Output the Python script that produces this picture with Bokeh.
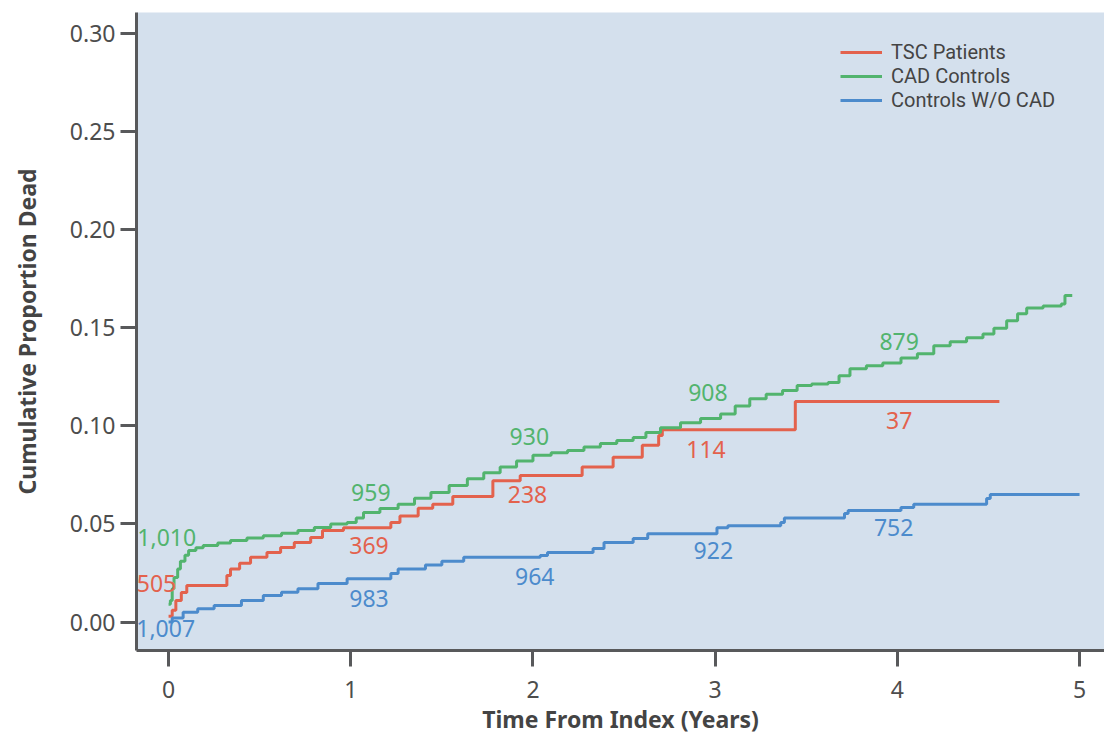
from bokeh.plotting import figure
from bokeh.models import Range1d, FixedTicker, Legend, LegendItem, NumeralTickFormatter, ColumnDataSource
from bokeh.core.properties import value
from bokeh.embed import file_html
from bokeh.resources import INLINE

# --- data ---
tsc_t = [0, 0.02, 0.04, 0.07, 0.10, 0.32, 0.34, 0.39, 0.45, 0.54, 0.615, 0.69, 0.78, 0.845,
         0.96, 1.22, 1.27, 1.37, 1.45, 1.56, 1.78, 1.93, 2.27, 2.44, 2.60, 2.69, 2.71, 3.44, 4.56]
tsc_v = [0.003, 0.006, 0.011, 0.015, 0.0186, 0.0237, 0.027, 0.030, 0.033, 0.0354, 0.038, 0.0405,
         0.043, 0.0466, 0.048, 0.0507, 0.054, 0.058, 0.060, 0.064, 0.072, 0.0747, 0.079, 0.084,
         0.090, 0.095, 0.098, 0.1123, 0.1123]

cad_t = [0, 0.01, 0.02, 0.03, 0.05, 0.065, 0.09, 0.11, 0.15, 0.19, 0.27, 0.34, 0.43, 0.52, 0.62,
         0.71, 0.80, 0.89, 0.98, 1.03, 1.07, 1.16, 1.26, 1.35, 1.44, 1.54, 1.64, 1.73, 1.82, 1.91,
         2.00, 2.10, 2.19, 2.28, 2.37, 2.46, 2.55, 2.62, 2.70, 2.81, 2.92, 3.03, 3.11, 3.19, 3.28,
         3.37, 3.45, 3.53, 3.62, 3.68, 3.74, 3.83, 3.92, 4.02, 4.11, 4.20, 4.29, 4.38, 4.47, 4.53,
         4.60, 4.66, 4.71, 4.80, 4.90, 4.92, 4.96]
cad_v = [0.009, 0.011, 0.017, 0.0227, 0.027, 0.031, 0.034, 0.0364, 0.0378, 0.039, 0.0402, 0.0415,
         0.0428, 0.044, 0.0452, 0.0466, 0.0482, 0.050, 0.0507, 0.053, 0.0558, 0.0578, 0.060, 0.063,
         0.066, 0.0695, 0.073, 0.076, 0.079, 0.082, 0.085, 0.0862, 0.0874, 0.0892, 0.091, 0.0925,
         0.094, 0.0965, 0.099, 0.1015, 0.1037, 0.106, 0.110, 0.1138, 0.116, 0.118, 0.1205, 0.1212,
         0.122, 0.1255, 0.129, 0.1305, 0.132, 0.1345, 0.1367, 0.1407, 0.1428, 0.1448, 0.1467,
         0.1497, 0.1535, 0.157, 0.160, 0.161, 0.162, 0.1663, 0.1663]

nocad_t = [0, 0.02, 0.08, 0.16, 0.25, 0.40, 0.52, 0.62, 0.71, 0.82, 0.98, 1.22, 1.26, 1.41, 1.50,
           1.62, 2.04, 2.08, 2.33, 2.39, 2.55, 2.63, 3.01, 3.07, 3.36, 3.38, 3.71, 3.73, 4.02,
           4.09, 4.49, 4.51, 5.00]
nocad_v = [0, 0.002, 0.005, 0.0068, 0.0084, 0.011, 0.0135, 0.0152, 0.017, 0.0196, 0.022, 0.0247,
           0.027, 0.029, 0.031, 0.033, 0.0339, 0.0354, 0.0375, 0.0405, 0.0425, 0.045, 0.048, 0.049,
           0.0507, 0.053, 0.0553, 0.0568, 0.0583, 0.060, 0.0629, 0.065, 0.065]

series_names = ["TSC Patients", "CAD Controls", "Controls W/O CAD"]

# numbers at risk
risk_tsc = ["505", "369", "238", "114", "37"]
risk_cad = ["1,010", "959", "930", "908", "879"]
risk_nocad = ["1,007", "983", "964", "922", "752"]

x_ticks = [0, 1, 2, 3, 4, 5]
y_ticks = [0.0, 0.05, 0.10, 0.15, 0.20, 0.25, 0.30]

# annotation positions for at-risk numbers
pos_tsc_x = [-0.066, 1.10, 1.97, 2.95, 4.01]
pos_tsc_y = [0.0196, 0.039, 0.065, 0.088, 0.1027]
pos_cad_x = [-0.01, 1.11, 1.98, 2.96, 4.01]
pos_cad_y = [0.043, 0.066, 0.0945, 0.117, 0.143]
pos_nocad_x = [-0.016, 1.10, 2.01, 2.99, 3.98]
pos_nocad_y = [-0.0033, 0.012, 0.023, 0.0365, 0.048]

RED = "#e3624d"
GREEN = "#52b46e"
BLUE = "#4c8bcc"
FONT = "Noto Sans"
LEGEND_FONT = "Roboto"

p = figure(width=1104, height=741,
           x_range=Range1d(-0.176, 5.137), y_range=Range1d(-0.0145, 0.3105),
           output_backend="svg", toolbar_location=None,
           min_border_left=136, min_border_right=0, min_border_top=12, min_border_bottom=91)
p.frame_width = 968
p.frame_height = 638

p.background_fill_color = "#d4e0ed"
p.border_fill_color = "white"
p.outline_line_color = None
p.grid.visible = False

r_tsc = p.step(tsc_t, tsc_v, mode="after", line_width=3, color=RED)
r_cad = p.step(cad_t, cad_v, mode="after", line_width=3, color=GREEN)
r_nocad = p.step(nocad_t, nocad_v, mode="after", line_width=3, color=BLUE)

for xs, ys, txt, col in [(pos_tsc_x, pos_tsc_y, risk_tsc, RED),
                         (pos_cad_x, pos_cad_y, risk_cad, GREEN),
                         (pos_nocad_x, pos_nocad_y, risk_nocad, BLUE)]:
    src = ColumnDataSource(dict(x=xs, y=ys, t=txt))
    p.text(x="x", y="y", text="t", source=src, text_color=col, text_font=value(FONT),
           text_font_size="23px", text_align="center", text_baseline="middle")

# axes
for ax in (p.xaxis[0], p.yaxis[0]):
    ax.axis_line_width = 3
    ax.axis_line_color = "#58595b"
    ax.major_tick_line_width = 3
    ax.major_tick_line_color = "#58595b"
    ax.major_tick_in = 0
    ax.minor_tick_line_color = None
    ax.major_label_text_font = FONT
    ax.major_label_text_font_size = "23px"
    ax.major_label_text_color = "#4d4d4d"
    ax.axis_label_text_font = FONT
    ax.axis_label_text_font_size = "23px"
    ax.axis_label_text_font_style = "bold"
    ax.axis_label_text_color = "#444444"

p.xaxis.ticker = FixedTicker(ticks=x_ticks)
p.yaxis.ticker = FixedTicker(ticks=y_ticks)
p.yaxis.formatter = NumeralTickFormatter(format="0.00")
p.xaxis.major_tick_out = 16
p.yaxis.major_tick_out = 16
p.xaxis.major_label_standoff = 14
p.yaxis.major_label_standoff = 5
p.xaxis.axis_label = "Time From Index (Years)"
p.yaxis.axis_label = "Cumulative Proportion Dead"
p.xaxis.axis_label_standoff = 2
p.yaxis.axis_label_standoff = 24

# one legend per row so the rows sit as tightly as in the reference
legend_rows = [(series_names[0], r_tsc, 586), (series_names[1], r_cad, 562),
               (series_names[2], r_nocad, 538)]
for name, rend, ypos in legend_rows:
    lg = Legend(items=[LegendItem(label=name, renderers=[rend])],
                location=(704, ypos), background_fill_alpha=0, border_line_color=None,
                padding=0, margin=0, spacing=0, glyph_width=42, glyph_height=20,
                label_height=20, label_standoff=9, label_text_font=LEGEND_FONT,
                label_text_font_size="20px", label_text_color="#444444")
    p.add_layout(lg)

open("out.html", "w").write(file_html(p, INLINE))
